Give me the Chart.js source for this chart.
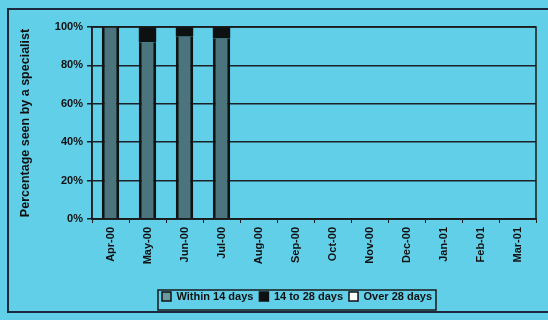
<!DOCTYPE html>
<html>
<head>
<meta charset="utf-8">
<script src="https://cdn.jsdelivr.net/npm/chart.js@4"></script>
<style>
  html, body { margin: 0; padding: 0; background: #62cfe9; }
  #wrap { width: 548px; height: 320px; position: relative; }
  #frame { position: absolute; left: 7px; top: 8px; width: 560px; height: 305px; border: 2px solid #1a2a3a; box-sizing: border-box; pointer-events: none; }
</style>
</head>
<body>
<div id="wrap">
  <canvas id="grafico" width="548" height="320"></canvas>
  <div id="frame"></div>
</div>
<script>
// Dados do gráfico
const meses = ['Apr-00', 'May-00', 'Jun-00', 'Jul-00', 'Aug-00', 'Sep-00', 'Oct-00', 'Nov-00', 'Dec-00', 'Jan-01', 'Feb-01', 'Mar-01'];
const ate14 = [100, 92, 95, 94, null, null, null, null, null, null, null, null];
const de14a28 = [0, 8, 5, 6, null, null, null, null, null, null, null, null];
const mais28 = [0, 0, 0, 0, null, null, null, null, null, null, null, null];
const ticksY = [0, 20, 40, 60, 80, 100];

// Moldura da área do gráfico e da legenda
const moldura = {
  id: 'moldura',
  afterLayout(chart) {
    // desloca a legenda um pouco para a direita e para baixo
    const lg = chart.legend;
    const dx = 22, dy = 4;
    lg.left += dx; lg.right += dx; lg.top += dy; lg.bottom += dy;
    lg.legendHitBoxes.forEach(h => { h.left += dx; h.top += dy; });
  },
  afterDraw(chart) {
    const ctx = chart.ctx;
    const a = chart.chartArea;
    ctx.save();
    ctx.strokeStyle = '#1a1a1a';
    ctx.lineWidth = 1.5;
    ctx.strokeRect(a.left, a.top, a.right - a.left, a.bottom - a.top);
    const lg = chart.legend;
    if (lg && lg.legendItems.length) {
      const hits = lg.legendHitBoxes;
      const x0 = hits[0].left - 4;
      const last = hits[hits.length - 1];
      const x1 = last.left + last.width + 4;
      ctx.strokeRect(x0, hits[0].top - 5, x1 - x0, hits[0].height + 9);
    }
    ctx.restore();
  }
};

const fonte = { family: 'Arial, "Liberation Sans", sans-serif', size: 11, weight: 'bold' };

new Chart(document.getElementById('grafico'), {
  type: 'bar',
  data: {
    labels: meses,
    datasets: [
      { label: 'Within 14 days', data: ate14, backgroundColor: '#4b747c', borderColor: '#0e1213', borderWidth: { left: 3, right: 3, top: 0, bottom: 0 } },
      { label: '14 to 28 days', data: de14a28, backgroundColor: '#0d1112', borderColor: '#0d1112', borderWidth: 0 },
      { label: 'Over 28 days', data: mais28, backgroundColor: '#ffffff', borderColor: '#101010', borderWidth: 0 }
    ]
  },
  options: {
    responsive: false,
    animation: false,
    layout: { padding: { left: 14, right: 12, top: 27, bottom: 12 } },
    datasets: { bar: { barPercentage: 0.47, categoryPercentage: 1 } },
    plugins: {
      tooltip: { enabled: false },
      legend: {
        position: 'bottom',
        labels: {
          color: '#111',
          font: fonte,
          boxWidth: 9,
          boxHeight: 9,
          padding: 6,
          generateLabels(chart) {
            return chart.data.datasets.map((ds, i) => ({
              text: ds.label,
              fillStyle: i === 0 ? '#6a9aa0' : ds.backgroundColor,
              strokeStyle: '#101010',
              lineWidth: 1.5,
              datasetIndex: i,
              fontColor: '#111'
            }));
          }
        }
      }
    },
    scales: {
      x: {
        stacked: true,
        grid: { offset: true, drawOnChartArea: false, drawTicks: true, tickLength: 4, color: '#1a1a1a' },
        border: { color: '#1a1a1a', width: 1.5 },
        ticks: { color: '#111', font: fonte, maxRotation: 90, minRotation: 90, padding: 4 },
        afterFit(scale) { scale.height = 62; }
      },
      y: {
        stacked: true,
        min: 0,
        max: 100,
        afterBuildTicks(scale) { scale.ticks = ticksY.map(v => ({ value: v })); },
        grid: { color: '#1a2228', lineWidth: 1.5, tickLength: 5 },
        border: { color: '#1a1a1a', width: 1.5 },
        ticks: { color: '#111', font: fonte, callback: v => v + '%', padding: 4 },
        title: { display: true, text: 'Percentage seen by a specialist', color: '#111', font: { ...fonte, size: 12.5 }, padding: { top: 4, bottom: 6 } },
        afterFit(scale) { scale.width = 78; }
      }
    }
  },
  plugins: [moldura]
});
</script>
</body>
</html>
